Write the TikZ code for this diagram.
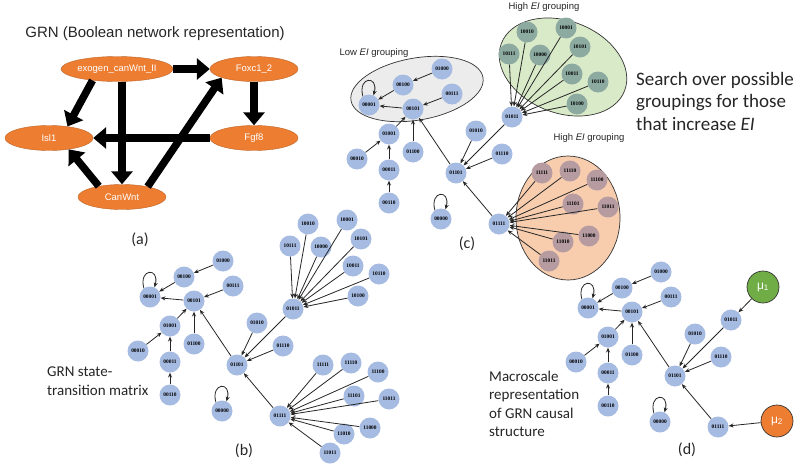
\documentclass[tikz,border=0pt]{standalone}
\usepackage{fontspec}
\setmainfont{Liberation Sans}
\newfontfamily\calib{Carlito}
\newfontfamily\stfont{Liberation Serif}
\usetikzlibrary{arrows.meta,shapes.geometric}
\definecolor{nblue}{HTML}{A6BBE2}
\definecolor{ngreen}{HTML}{8DAAA1}
\definecolor{nmauve}{HTML}{B69CA1}
\definecolor{gorange}{HTML}{ED7D31}
\definecolor{ggreenbg}{HTML}{D9EAC9}
\definecolor{gorangebg}{HTML}{F8CDAE}
\definecolor{ggraybg}{HTML}{ECECEC}
\definecolor{mugreen}{HTML}{70AD47}
\tikzset{
 st/.style={circle,fill=nblue,minimum size=21pt,inner sep=0pt,font=\stfont\bfseries\fontsize{5.4}{6}\selectfont},
 gst/.style={st,fill=ngreen},
 ost/.style={st,fill=nmauve},
 garr/.style={draw=black!85,line width=0.8pt,-{Stealth[length=4.8pt,width=4pt]}},
 gloop/.style={garr,looseness=5},
 grn/.style={ellipse,fill=gorange,draw=gorange!80!black,line width=0.4pt,minimum width=88pt,minimum height=25pt,inner sep=0pt,text=white,font=\fontsize{9.5}{11}\selectfont},
 bigarr/.style={line width=7.5pt,-{Triangle[width=21pt,length=13pt]}},
 grpbox/.style={draw=black!80,line width=0.7pt},
 grplabel/.style={font=\fontsize{9.5}{11}\selectfont,text=black!85},
 plabel/.style={font=\calib\fontsize{16}{18}\selectfont,text=black!85},
 expl/.style={font=\calib\fontsize{15}{18.4}\selectfont,align=left,anchor=west,text=black!85,inner sep=0pt},
 mu/.style={circle,minimum size=32pt,inner sep=0pt,draw=black!80,line width=0.7pt,text=white,font=\fontsize{12}{13}\selectfont},
}
\newcommand\coregraph{%
 \node[st] (n01000) at (442,69) {01000};
 \node[st] (n00100) at (403,85) {00100};
 \node[st] (n00111) at (452,94) {00111};
 \node[st] (n00001) at (369,105) {00001};
 \node[st] (n00101) at (413,109) {00101};
 \node[st] (n01001) at (389,134) {01001};
 \node[st] (n01010) at (476,131) {01010};
 \node[st] (n00010) at (357,159) {00010};
 \node[st] (n01100) at (413,152) {01100};
 \node[st] (n00011) at (389,170) {00011};
 \node[st] (n01101) at (456,173) {01101};
 \node[st] (n00110) at (389,203) {00110};
 \node[st] (n00000) at (441,219) {00000};
 \node[st] (n01011) at (512,117) {01011};
 \node[st] (n01110) at (502,154) {01110};
 \node[st] (n01111) at (499,224) {01111};
 \draw[garr] (n01000) -- (n00100);
 \draw[garr] (n00100) -- (n00001);
 \draw[garr] (n00101) -- (n00001);
 \draw[garr] (n00111) -- (n00101);
 \draw[garr] (n01001) -- (n00101);
 \draw[garr] (n01100) -- (n00101);
 \draw[garr] (n00010) -- (n01001);
 \draw[garr] (n00011) -- (n01001);
 \draw[garr] (n00110) -- (n00011);
 \draw[garr] (n01101) -- (n00101);
 \draw[garr] (n01010) -- (n01101);
 \draw[garr] (n01011) -- (n01101);
 \draw[garr] (n01110) -- (n01101);
 \draw[garr] (n01111) -- (n01101);
 \draw[gloop] (n00001.125) to[out=105,in=75] (n00001.65);
 \draw[gloop] (n00000.125) to[out=105,in=75] (n00000.65);
}
\newcommand\clusters[2]{%
 \node[#1] (n10010) at (527,32) {10010};
 \node[#1] (n10001) at (566,28) {10001};
 \node[#1] (n10111) at (509,54) {10111};
 \node[#1] (n10000) at (540,55) {10000};
 \node[#1] (n10101) at (580,47) {10101};
 \node[#1] (n10011) at (572,74) {10011};
 \node[#1] (n10110) at (598,82) {10110};
 \node[#1] (n10100) at (577,104) {10100};
 \node[#2] (n11111) at (542,173) {11111};
 \node[#2] (n11110) at (570,171) {11110};
 \node[#2] (n11100) at (597,180) {11100};
 \node[#2] (n11101) at (573,204) {11101};
 \node[#2] (n11011a) at (608,207) {11011};
 \node[#2] (n11000) at (589,236) {11000};
 \node[#2] (n11010) at (563,242) {11010};
 \node[#2] (n11011b) at (549,261) {11011};
 \foreach \s in {10010,10001,10111,10000,10101,10011,10110,10100}
   {\draw[garr] (n\s) -- (n01011);}
 \foreach \s in {11111,11110,11100,11101,11011a,11000,11010,11011b}
   {\draw[garr] (n\s) -- (n01111);}
}
\begin{document}
\begin{tikzpicture}[x=1pt,y=-1pt]
\useasboundingbox[fill=white] (0,0) rectangle (800,466);

% ---------- panel (a)
\node[font=\fontsize{15}{17}\selectfont,text=black!85] (title) at (155,34) {GRN (Boolean network representation)};
\node[grn] (exo) at (117,69) {exogen\_canWnt\_II};
\node[grn] (foxc) at (254,69) {Foxc1\_2};
\node[grn] (isl) at (49,138) {Isl1};
\node[grn] (fgf) at (254,138) {Fgf8};
\node[grn] (can) at (122,197) {CanWnt};
\draw[bigarr] (exo.east) -- (foxc.west);
\draw[bigarr] (exo.205) -- (isl.32);
\draw[bigarr] (exo.south -| can.north) -- (can.north);
\draw[bigarr] (foxc.south) -- (fgf.north);
\draw[bigarr] (fgf.west) -- (isl.east);
\draw[bigarr] (can.155) -- (isl.-30);
\draw[bigarr] (can.22) -- (foxc.195);
\node[plabel] (la) at (140,240) {(a)};

% ---------- panel (c)
\draw[grpbox,fill=ggraybg,rotate around={10:(417,89)}] (417,89) ellipse [x radius=67pt,y radius=31pt];
\draw[grpbox,fill=ggreenbg,rotate around={-21:(563,67)}] (563,67) ellipse [x radius=66pt,y radius=46pt];
\draw[grpbox,fill=gorangebg] (568,218) ellipse [x radius=52pt,y radius=62pt];
\begin{scope}[name prefix=c-]
 \coregraph
 \clusters{gst}{ost}
\end{scope}
\node[grplabel] (lowlab) at (374,53) {Low \textit{EI} grouping};
\node[grplabel] (hilab1) at (544,7) {High \textit{EI} grouping};
\node[grplabel] (hilab2) at (589,138) {High \textit{EI} grouping};
\node[expl,font=\calib\fontsize{19}{22.5}\selectfont] (search) at (636,101) {Search over possible\\groupings for those\\that increase \textit{EI}};
\node[plabel] (lc) at (467,244) {(c)};

% ---------- panel (b)
\begin{scope}[shift={(-219,192)},name prefix=b-]
 \coregraph
 \clusters{st}{st}
\end{scope}
\node[expl] (btext) at (47,381) {GRN state-\\transition matrix};
\node[plabel] (lb) at (244,451) {(b)};

% ---------- panel (d)
\begin{scope}[shift={(219,203)},name prefix=d-]
 \coregraph
 \node[mu,fill=mugreen] (mu1) at (544,84) {μ\textsubscript{1}};
 \node[mu,fill=gorange] (mu2) at (558,218) {μ\textsubscript{2}};
 \draw[garr] (mu1) -- (n01011);
 \draw[garr] (mu2) -- (n01111);
\end{scope}
\node[expl] (dtext) at (489,404) {Macroscale\\representation\\of GRN causal\\structure};
\node[plabel] (ld) at (687,450) {(d)};
\end{tikzpicture}
\end{document}
